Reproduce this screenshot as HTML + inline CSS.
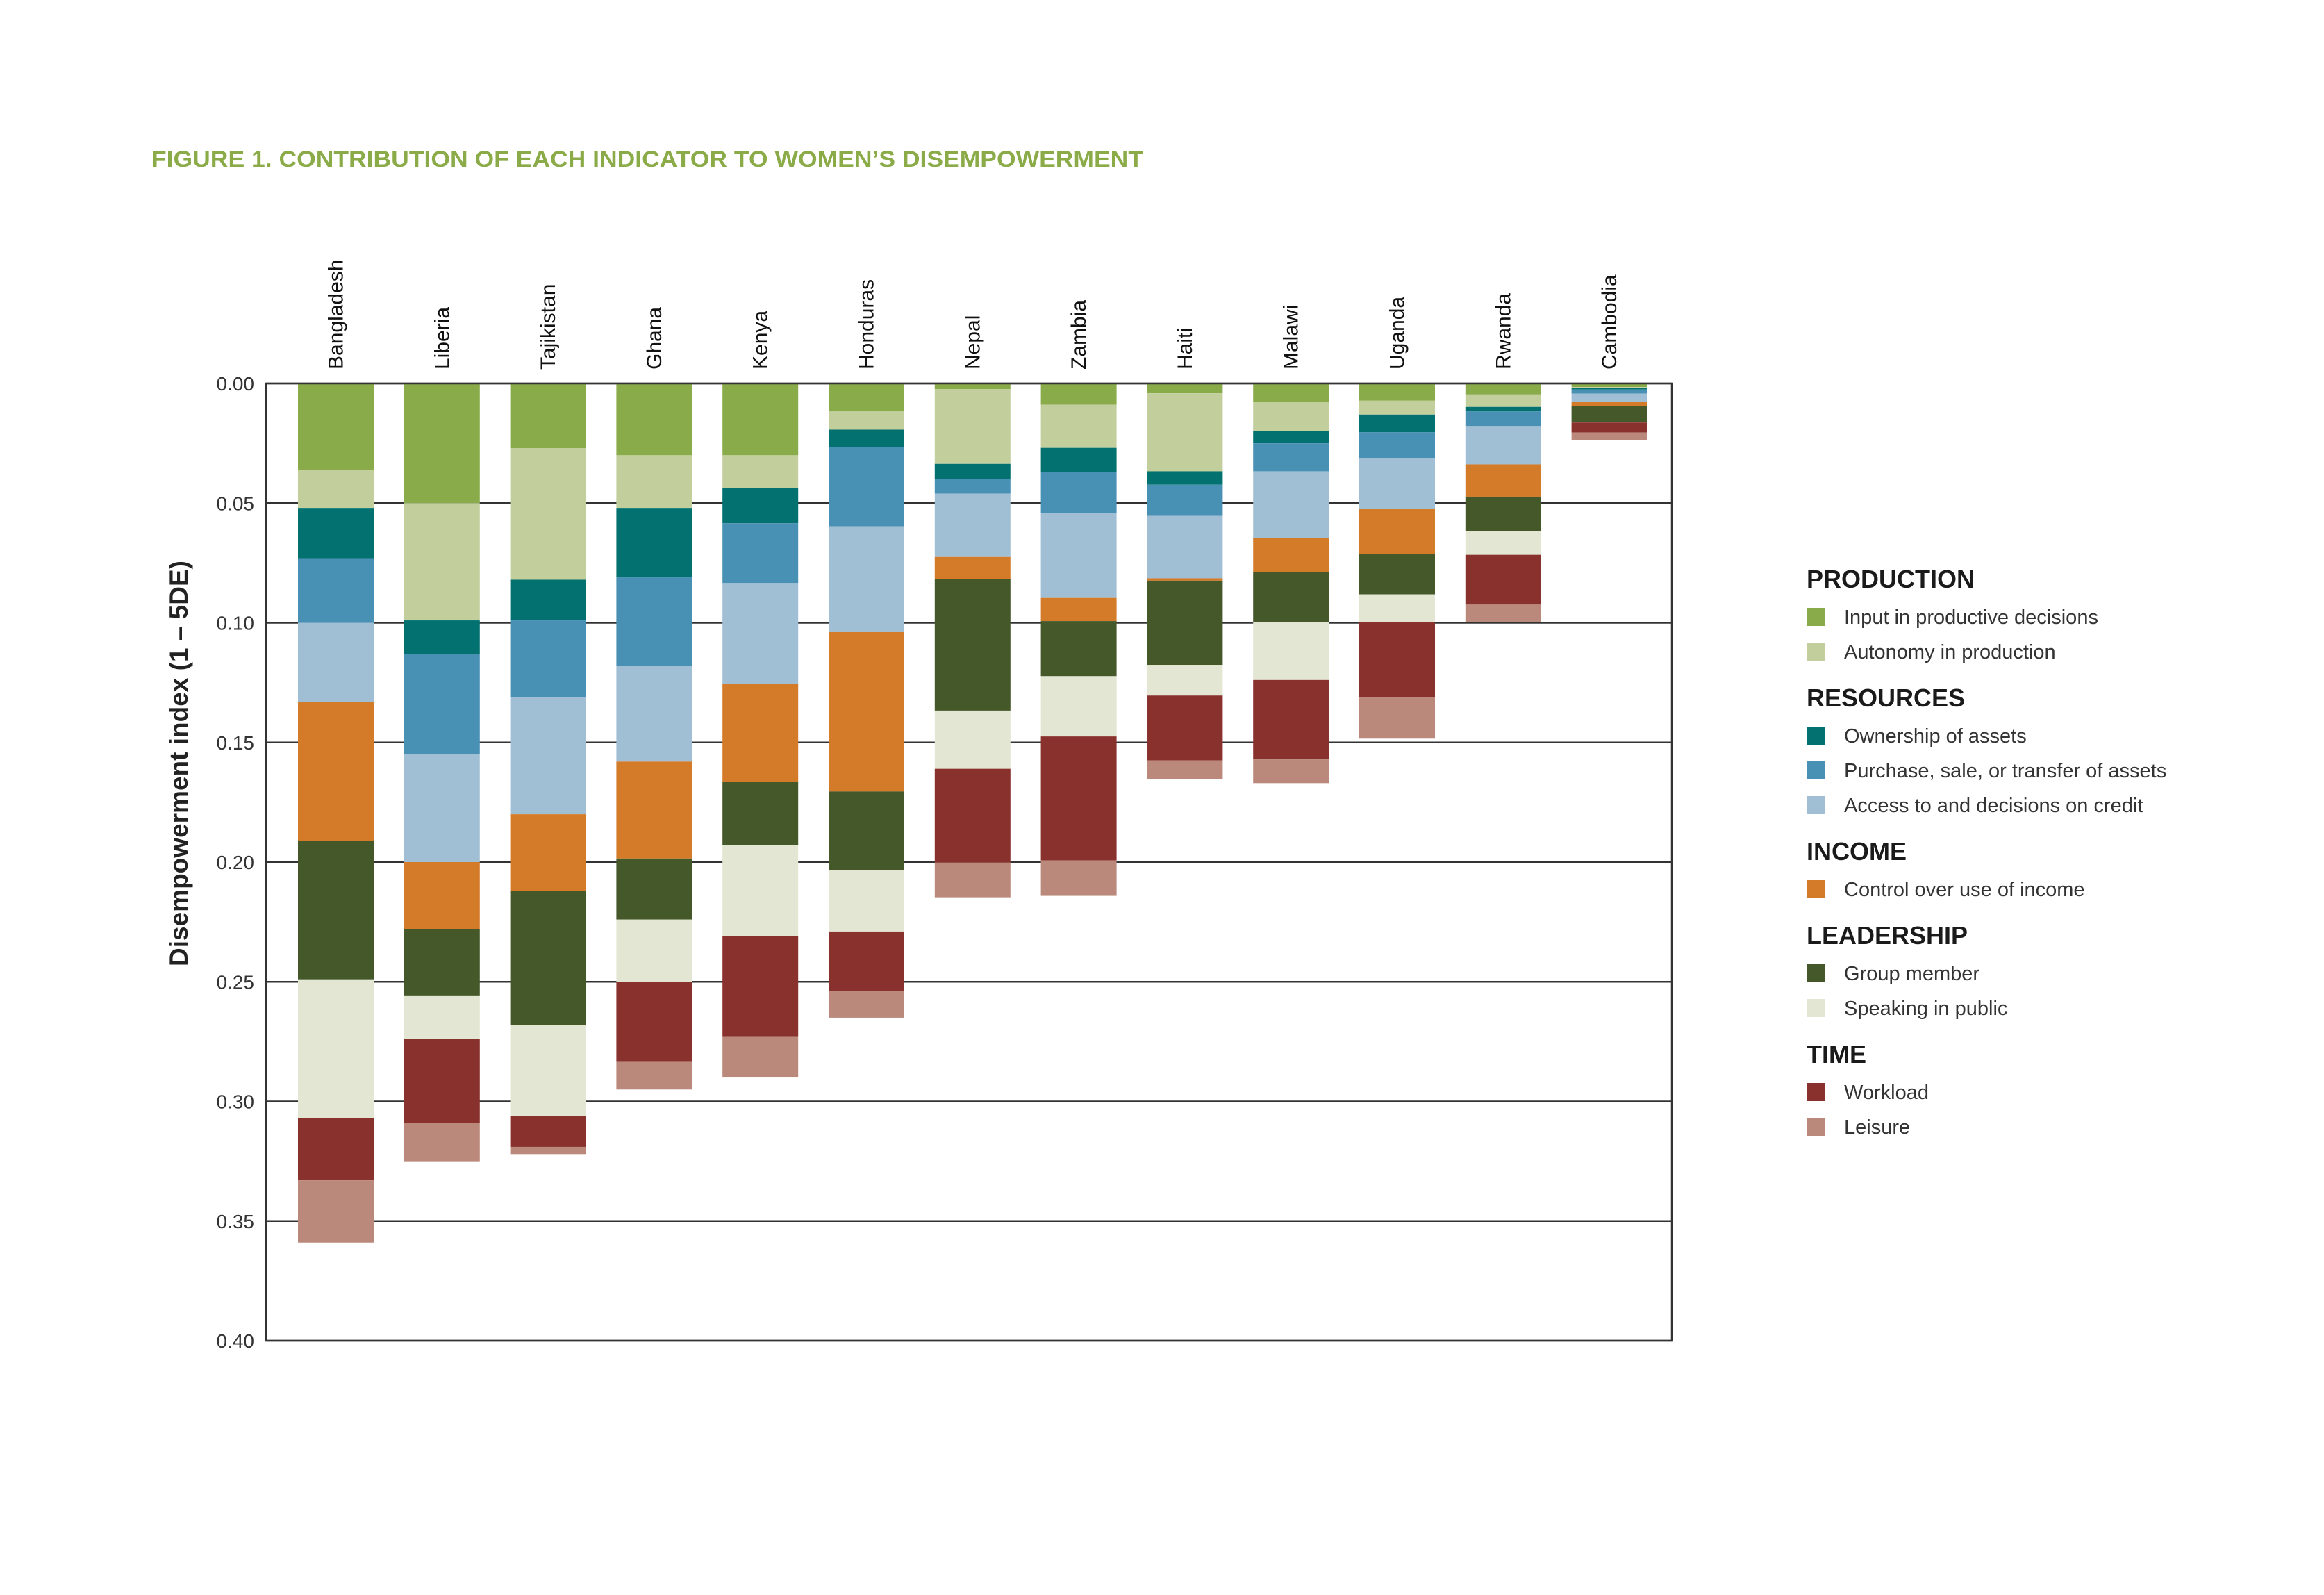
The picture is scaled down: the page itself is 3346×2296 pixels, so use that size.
<!DOCTYPE html>
<html><head><meta charset="utf-8"><style>
html,body{margin:0;padding:0;background:#fff;}
svg{display:block;}
</style></head><body>
<svg id="chart" width="3346" height="2296" viewBox="0 0 3346 2296" xmlns="http://www.w3.org/2000/svg" font-family="'Liberation Sans', sans-serif">
<text x="218" y="240" font-size="32" font-weight="bold" fill="#8aab47" textLength="1428" lengthAdjust="spacingAndGlyphs">FIGURE 1. CONTRIBUTION OF EACH INDICATOR TO WOMEN’S DISEMPOWERMENT</text>
<text transform="translate(270,1099) rotate(-90)" text-anchor="middle" font-size="37" font-weight="bold" fill="#222">Disempowerment index (1 – 5DE)</text>
<g id="grid"></g>
<g id="bars"></g>
<g id="axis"></g>
<g id="labels"></g>
<g id="legend"></g>
</svg>
<script>
const countries = ["Bangladesh","Liberia","Tajikistan","Ghana","Kenya","Honduras","Nepal","Zambia","Haiti","Malawi","Uganda","Rwanda","Cambodia"];
const seriesNames = ["Input in productive decisions","Autonomy in production","Ownership of assets","Purchase, sale, or transfer of assets","Access to and decisions on credit","Control over use of income","Group member","Speaking in public","Workload","Leisure"];
const seriesColors = ["#8aab4a","#c2cf9d","#03716f","#4890b4","#a1bfd4","#d47b29","#45582a","#e3e6d2","#88312d","#bb897b"];
const inputDecisions = [0.036,0.050,0.027,0.030,0.030,0.0117,0.0024,0.0089,0.0041,0.0078,0.0072,0.0046,0.0015];
const autonomy = [0.016,0.049,0.055,0.022,0.0138,0.0076,0.0312,0.018,0.0326,0.0122,0.0058,0.0052,0.0003];
const ownership = [0.021,0.014,0.017,0.029,0.0146,0.0072,0.0063,0.010,0.0056,0.005,0.0074,0.0019,0.0007];
const purchase = [0.027,0.042,0.032,0.037,0.025,0.0332,0.0061,0.0173,0.013,0.0117,0.0108,0.0061,0.0017];
const credit = [0.033,0.045,0.049,0.040,0.042,0.0442,0.0265,0.0354,0.0261,0.0279,0.0213,0.016,0.0035];
const income = [0.058,0.028,0.032,0.0405,0.041,0.0666,0.0093,0.0097,0.001,0.0143,0.0187,0.0135,0.0017];
const groupMember = [0.058,0.028,0.056,0.0255,0.0266,0.0328,0.0549,0.023,0.0352,0.0209,0.0169,0.0143,0.0067];
const speaking = [0.058,0.018,0.038,0.026,0.038,0.0257,0.0243,0.0252,0.0128,0.0241,0.0117,0.010,0.0002];
const workload = [0.026,0.035,0.013,0.0335,0.042,0.025,0.0392,0.0518,0.0271,0.0332,0.0314,0.0208,0.0042];
const leisure = [0.026,0.016,0.003,0.0115,0.017,0.011,0.0145,0.0148,0.0078,0.0099,0.0172,0.0074,0.0032];
const yTicks = ["0.00","0.05","0.10","0.15","0.20","0.25","0.30","0.35","0.40"];
const legendGroups = ["PRODUCTION","RESOURCES","INCOME","LEADERSHIP","TIME"];
const legendGroupMembers = [[0,1],[2,3,4],[5],[6,7],[8,9]];

const series = [inputDecisions,autonomy,ownership,purchase,credit,income,groupMember,speaking,workload,leisure];
const NS = "http://www.w3.org/2000/svg";
const X0 = 383, X1 = 2407, Y0 = 552, Y1 = 1930, YMAX = 0.40;
const y = v => Y0 + (v / YMAX) * (Y1 - Y0);
const barW = 109, pitch = 152.8, firstLeft = 429;
const xBar = i => firstLeft + i * pitch;
function mk(tag, attrs, parent){ const e=document.createElementNS(NS,tag); for(const k in attrs) e.setAttribute(k,attrs[k]); parent.appendChild(e); return e; }

const grid = document.getElementById('grid');
yTicks.forEach((t)=>{
  const v = parseFloat(t);
  const gl = mk('line',{x1:X0,x2:X1,y1:y(v),y2:y(v),stroke:'#333','stroke-width':2.5},grid);
  
  
  const tl = mk('text',{x:366,y:y(v)+10,'text-anchor':'end','font-size':28,fill:'#333'},grid);
  tl.textContent = t;
  
  
});

const bars = document.getElementById('bars');
countries.forEach((c,i)=>{
  let cum = 0;
  series.forEach((s,k)=>{
    const v = s[i];
    const r = mk('rect',{x:xBar(i),y:y(cum),width:barW,height:Math.max(0,y(cum+v)-y(cum)),fill:seriesColors[k]},bars);
    
    
    cum += v;
  });
  const cx = xBar(i) + barW/2;
  const lab = mk('text',{transform:`translate(${cx+10},532) rotate(-90)`,'font-size':30,fill:'#111'},document.getElementById('labels'));
  lab.textContent = c;
  
  
});

const axis = document.getElementById('axis');
const box = mk('rect',{x:X0,y:Y0,width:X1-X0,height:Y1-Y0,fill:'none',stroke:'#333','stroke-width':2.5},axis);



const legend = document.getElementById('legend');
let ly = 834;
legendGroups.forEach((g,gi)=>{
  const h = mk('text',{x:2601,y:ly+12,'font-size':36,'font-weight':'bold',fill:'#1a1a1a'},legend);
  h.textContent = g;
  
  
  ly += 53;
  legendGroupMembers[gi].forEach(k=>{
    const sw = mk('rect',{x:2601,y:ly-12,width:26,height:26,fill:seriesColors[k]},legend);
    
    
    const t = mk('text',{x:2655,y:ly+11,'font-size':29,fill:'#333'},legend);
    t.textContent = seriesNames[k];
    
    
    ly += 50;
  });
  ly += 18;
});
</script>
</body></html>
